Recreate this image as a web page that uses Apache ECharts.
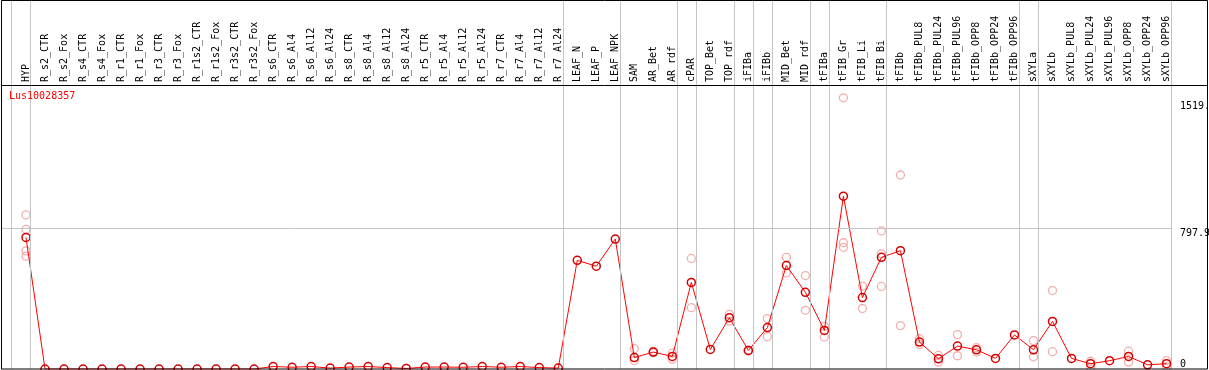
<!DOCTYPE html>
<html>
<head>
<meta charset="utf-8">
<script src="https://cdn.jsdelivr.net/npm/echarts@6/dist/echarts.min.js"></script>
<style>
  html, body { margin: 0; padding: 0; background: #fff; }
  #chart { width: 1209px; height: 370px; }
</style>
</head>
<body>
<div id="chart"></div>
<script>
// 样本名称
const categories = [
  'HYP', 'R_s2_CTR', 'R_s2_Fox', 'R_s4_CTR', 'R_s4_Fox', 'R_r1_CTR', 'R_r1_Fox', 'R_r3_CTR', 'R_r3_Fox',
  'R_r1s2_CTR', 'R_r1s2_Fox', 'R_r3s2_CTR', 'R_r3s2_Fox', 'R_s6_CTR', 'R_s6_Al4', 'R_s6_Al12', 'R_s6_Al24',
  'R_s8_CTR', 'R_s8_Al4', 'R_s8_Al12', 'R_s8_Al24', 'R_r5_CTR', 'R_r5_Al4', 'R_r5_Al12', 'R_r5_Al24',
  'R_r7_CTR', 'R_r7_Al4', 'R_r7_Al12', 'R_r7_Al24', 'LEAF_N', 'LEAF_P', 'LEAF_NPK', 'SAM', 'AR_Bet', 'AR_rdf',
  'cPAR', 'TOP_Bet', 'TOP_rdf', 'iFIBa', 'iFIBb', 'MID_Bet', 'MID_rdf', 'tFIBa', 'tFIB_Gr', 'tFIB_Li', 'tFIB_Bi',
  'tFIBb', 'tFIBb_PUL8', 'tFIBb_PUL24', 'tFIBb_PUL96', 'tFIBb_OPP8', 'tFIBb_OPP24', 'tFIBb_OPP96',
  'sXYLa', 'sXYLb', 'sXYLb_PUL8', 'sXYLb_PUL24', 'sXYLb_PUL96', 'sXYLb_OPP8', 'sXYLb_OPP24', 'sXYLb_OPP96'
];

// 平均值
const means = [
  746, 0, 0, 0, 0, 0, 0, 0, 0, 0, 0, 0, 0, 14, 10, 14, 5, 11, 14, 8, 3, 11, 11, 10, 14, 10, 14, 8, 5,
  616, 583, 737, 65, 96, 71, 491, 111, 291, 105, 235, 587, 435, 219, 980, 405, 633, 671,
  153, 58, 130, 109, 60, 193, 109, 270, 60, 30, 47, 71, 24, 30
];

// 重复样本值 (每个样本一组)
const replicates = [
  [874, 792, 670, 640], [], [], [], [], [], [], [], [], [], [], [], [], [], [], [], [], [], [], [], [],
  [], [], [], [], [], [], [], [],
  [], [], [], [115, 48], [100, 92], [90, 56], [627, 348], [], [310, 272], [108, 102], [286, 183],
  [633, 545], [530, 333], [242, 181], [1538, 716, 690], [470, 343], [783, 653, 468], [1100, 246],
  [172, 139], [77, 39], [195, 75], [121, 96], [], [], [161, 69], [445, 98], [], [44, 10], [],
  [101, 39], [], [48, 14]
];

// 分组分隔线 (在这些样本之后)
const groupBreaks = [-1, 0, 28, 31, 34, 35, 37, 38, 39, 41, 42, 45, 52, 53, 60];

// 右侧刻度
const yTicks = [797.9, 1519.4];
const yZeroTick = [0];
const refLine = 797.9;
const geneName = 'Lus10028357';

const xMin = -1.315;
const xMax = 62.18;
const yMax = 2092.5;
const font = 'DejaVu Sans Mono';

const repData = [];
replicates.forEach((vals, i) => vals.forEach((v) => repData.push([i, v])));

const chart = echarts.init(document.getElementById('chart'), null, { renderer: 'canvas' });

const yLabel = (values, vAlign) => ({
  customValues: values,
  margin: 1,
  verticalAlign: vAlign,
  color: '#000',
  fontFamily: font,
  fontSize: 10,
  formatter: (v) => String(v),
});

chart.setOption({
  animation: false,
  backgroundColor: '#fff',
  title: {
    text: geneName,
    left: 9,
    top: 91,
    padding: 0,
    textStyle: { color: '#ff0000', fontFamily: font, fontSize: 10, fontWeight: 'normal' },
  },
  graphic: [
    {
      type: 'rect',
      shape: { x: 1.5, y: 0.5, width: 1206, height: 368.5 },
      style: { fill: 'none', stroke: '#000', lineWidth: 1 },
      z: 100,
    },
    {
      type: 'line',
      shape: { x1: 1, y1: 85.5, x2: 1208, y2: 85.5 },
      style: { stroke: '#000', lineWidth: 1 },
      z: 100,
    },
  ],
  grid: [
    { left: 1, right: 1, top: 0, bottom: 1, outerBoundsMode: 'none', containLabel: false },
    { left: 16.5, width: 1159.6, top: 85, height: 284, outerBoundsMode: 'none', containLabel: false },
  ],
  xAxis: [
    { type: 'value', gridIndex: 0, min: xMin, max: xMax, show: false },
    {
      type: 'category',
      gridIndex: 1,
      position: 'top',
      data: categories,
      boundaryGap: true,
      axisLine: { show: false },
      axisTick: { show: false },
      splitLine: { show: false },
      axisLabel: { interval: 0, rotate: 90, margin: 3, color: '#000', fontFamily: font, fontSize: 10 },
    },
  ],
  yAxis: [
    {
      type: 'value',
      gridIndex: 0,
      min: 0,
      max: yMax,
      position: 'right',
      offset: -29,
      axisLine: { show: false },
      axisTick: { show: false },
      splitLine: { show: false },
      axisLabel: yLabel(yTicks, 'top'),
    },
    {
      type: 'value',
      gridIndex: 0,
      min: 0,
      max: yMax,
      position: 'right',
      offset: -29,
      axisLine: { show: false },
      axisTick: { show: false },
      splitLine: { show: false },
      axisLabel: yLabel(yZeroTick, 'bottom'),
    },
    { type: 'value', gridIndex: 1, show: false },
  ],
  series: [
    {
      type: 'scatter',
      xAxisIndex: 0,
      yAxisIndex: 0,
      data: repData,
      symbol: 'circle',
      symbolSize: 8,
      itemStyle: { color: 'rgba(0,0,0,0)', borderColor: '#f09a9a', borderWidth: 1.3 },
      z: 2,
      markLine: {
        silent: true,
        symbol: 'none',
        label: { show: false },
        lineStyle: { color: '#c4c4c4', width: 1, type: 'solid' },
        data: groupBreaks
          .map((b) => ({ xAxis: b + 0.25 }))
          .concat([[{ coord: [xMin, refLine] }, { coord: [groupBreaks[groupBreaks.length - 1] + 0.25, refLine] }]]),
      },
    },
    {
      type: 'line',
      xAxisIndex: 0,
      yAxisIndex: 0,
      data: means.map((v, i) => [i, v]),
      symbol: 'circle',
      symbolSize: 8,
      showAllSymbol: true,
      lineStyle: { color: '#ff0000', width: 1 },
      itemStyle: { color: 'rgba(0,0,0,0)', borderColor: '#d40000', borderWidth: 1.5 },
      z: 3,
    },
  ],
});
</script>
</body>
</html>
